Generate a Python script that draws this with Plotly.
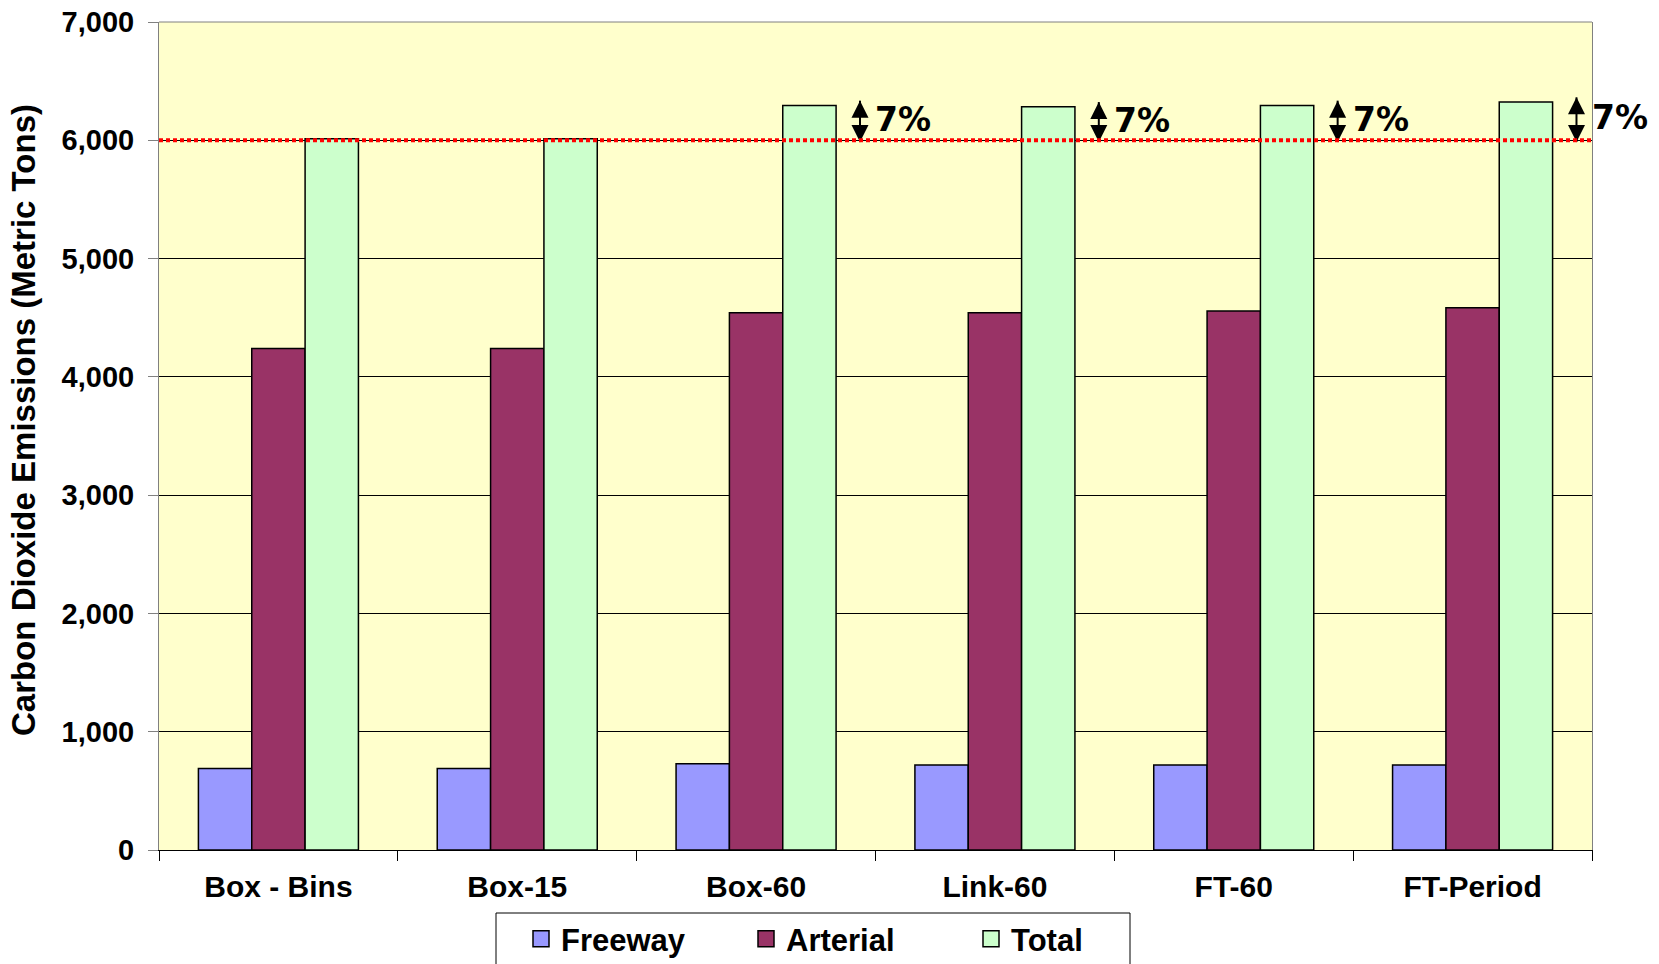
import plotly.graph_objects as go

# Scenario totals of CO2 emissions (metric tons) by road class
scenarios = ["Box - Bins", "Box-15", "Box-60", "Link-60", "FT-60", "FT-Period"]
freeway = [690, 690, 730, 718, 718, 718]
arterial = [4240, 4240, 4542, 4542, 4556, 4584]
total = [6013, 6013, 6295, 6283, 6295, 6323]

baseline = 6000
flagged = ["Box-60", "Link-60", "FT-60", "FT-Period"]
change_label = "7%"

y_ticks = [0, 1000, 2000, 3000, 4000, 5000, 6000, 7000]
y_title = "Carbon Dioxide Emissions (Metric Tons)"

series = [
    ("Freeway", freeway, "#9999FF"),
    ("Arterial", arterial, "#993366"),
    ("Total", total, "#CCFFCC"),
]

BASE_FONT = "Liberation Sans, Arial, sans-serif"
W, H = 1659, 964
ML, MR, MT, MB = 159, 67, 22, 114
PW, PH = W - ML - MR, H - MT - MB
N = len(scenarios)

fig = go.Figure()
for name, vals, color in series:
    fig.add_trace(go.Bar(
        x=scenarios, y=vals, name=name, showlegend=False,
        marker=dict(color=color, line=dict(color="black", width=1.5)),
    ))
# legend entries with larger square swatches
for name, vals, color in series:
    fig.add_trace(go.Scatter(
        x=[None], y=[None], mode="markers", name=name,
        marker=dict(symbol="square", size=16, color=color,
                    line=dict(color="black", width=1.5)),
    ))

# double-headed arrows spanning the rise above the baseline, drawn on a
# hidden linear axis that shares the category positions
annotations = []
for s in flagged:
    i = scenarios.index(s)
    t = total[i]
    fig.add_trace(go.Scatter(
        x=[i + 0.435, i + 0.435], y=[t + 40, baseline - 15],
        xaxis="x2", yaxis="y", mode="lines+markers", showlegend=False,
        hoverinfo="skip", line=dict(color="black", width=2),
        marker=dict(symbol=["arrow-up", "arrow-down"], size=17, color="black",
                    line=dict(width=0)),
    ))
    annotations.append(dict(
        x=i + 0.49, y=(t + baseline) / 2 + 30, xref="x2", yref="y",
        text=change_label, showarrow=False, xanchor="left", yanchor="middle",
        font=dict(family="DejaVu Sans, Verdana, sans-serif", size=33,
                  color="black", weight="bold"),
    ))

# y-axis title
annotations.append(dict(
    text=y_title, textangle=-90, xref="paper", yref="paper",
    x=(23 - ML) / PW, y=(MT + PH - 420) / PH, xanchor="center", yanchor="middle",
    showarrow=False,
    font=dict(family=BASE_FONT, size=33, color="black", weight="bold"),
))

fig.update_layout(
    width=W, height=H,
    margin=dict(l=ML, r=MR, t=MT, b=MB, autoexpand=False),
    paper_bgcolor="white",
    plot_bgcolor="#FFFFCC",
    barmode="group", bargap=0.33, bargroupgap=0,
    font=dict(family=BASE_FONT, size=30, color="black", weight="bold"),
    showlegend=True,
    legend=dict(
        orientation="h",
        xref="container", x=521 / W, xanchor="left",
        yref="container", y=1 - 912 / H, yanchor="top",
        bgcolor="rgba(0,0,0,0)", borderwidth=0,
        font=dict(family=BASE_FONT, size=31, color="black", weight="bold"),
        entrywidth=180, entrywidthmode="pixels",
    ),
    annotations=annotations,
    shapes=[
        dict(type="rect", xref="paper", yref="paper",
             x0=(496 - ML) / PW, x1=(1130 - ML) / PW,
             y0=(MT + PH - 913) / PH, y1=(MT + PH - 980) / PH,
             line=dict(color="black", width=1), fillcolor="white", layer="below"),
        dict(type="line", xref="paper", yref="paper", x0=0, x1=1, y0=1, y1=1,
             line=dict(color="#808080", width=1)),
        dict(type="line", xref="paper", yref="y", x0=0, x1=1,
             y0=baseline, y1=baseline,
             line=dict(color="#FF0000", width=4, dash="4px,3px")),
    ],
    xaxis2=dict(overlaying="x", type="linear", range=[-0.5, N - 0.5],
                visible=False, fixedrange=True),
)

fig.update_xaxes(
    type="category", range=[-0.5, N - 0.5], tickson="boundaries",
    ticks="outside", ticklen=10,
    tickcolor="black", showline=True, linecolor="black", linewidth=1,
    showgrid=False, ticklabelstandoff=10, automargin=False,
    tickfont=dict(family=BASE_FONT, size=30, color="black", weight="bold"),
)
fig.update_layout(xaxis2=dict(type="linear", range=[-0.5, N - 0.5], visible=False,
                              overlaying="x", showline=False, ticks=""))
fig.update_yaxes(
    range=[0, 7000], tickvals=y_ticks, tickformat=",", ticks="outside",
    ticklen=10, tickcolor="#808080", showline=True, linecolor="#808080",
    linewidth=1, mirror=True, showgrid=True, gridcolor="black", gridwidth=1,
    zeroline=False, ticklabelstandoff=8, automargin=False,
    tickfont=dict(family=BASE_FONT, size=29, color="black", weight="bold"),
)

fig.write_html("out.html")
